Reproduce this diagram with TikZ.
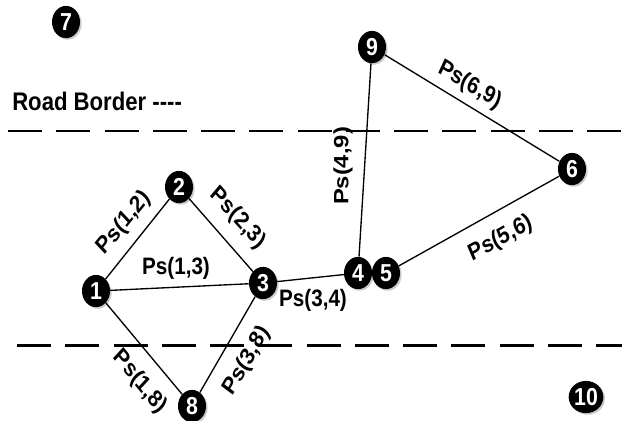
\documentclass[tikz,border=0pt]{standalone}
\usepackage{fontspec}
\setmainfont{Liberation Sans}
\usetikzlibrary{shadows,shapes.geometric}
\begin{document}
\begin{tikzpicture}[x=0.75pt, y=-0.6522pt, yscale=1.15,
  every node/.append style={transform shape},
  vert/.style={ellipse, fill=black, text=white,
    font=\bfseries\fontsize{16}{16}\selectfont,
    minimum width=21pt, minimum height=21pt, inner sep=0pt,
    drop shadow={shadow xshift=1.2pt, shadow yshift=-1.2pt, opacity=0.35, fill=black!60}},
  edge/.style={line width=1pt},
  lab/.style={font=\bfseries\fontsize{15.5}{15.5}\selectfont, inner sep=0pt},
  border/.style={line width=2.2pt, dash pattern=on 25.5pt off 10.7pt}]
\useasboundingbox (0,0) rectangle (622,420);

% road borders
\coordinate (b1s) at (8,131);  \coordinate (b1e) at (622,131);
\coordinate (b2s) at (17,345); \coordinate (b2e) at (622,345);
\draw[border] (b1s) -- (b1e);
\draw[border] (b2s) -- (b2e);
\node[font=\bfseries\fontsize{16.6}{16.6}\selectfont, anchor=base west, inner sep=0pt] (rb) at (12,110) {Road Border -{}-{}-{}-};

% vertices
\node[vert] (n1) at (96,291) {1};
\node[vert] (n2) at (179,187) {2};
\node[vert] (n3) at (263,283) {3};
\node[vert] (n4) at (358,273) {4};
\node[vert] (n5) at (386,273) {5};
\node[vert] (n6) at (572,169) {6};
\node[vert] (n7) at (66,22) {7};
\node[vert] (n8) at (192,406) {8};
\node[vert] (n9) at (372,47) {9};
\node[vert, minimum width=26pt] (n10) at (586,397) {10};

% edges
\draw[edge] (n1) -- (n2);
\draw[edge] (n2) -- (n3);
\draw[edge] (n1) -- (n3);
\draw[edge] (n3) -- (n4);
\draw[edge] (n4) -- (n9);
\draw[edge] (n9) -- (n6);
\draw[edge] (n5) -- (n6);
\draw[edge] (n1) -- (n8);
\draw[edge] (n8) -- (n3);

% labels
\node[lab, rotate=47.3] (l12) at (124,223) {Ps(1,2)};
\node[lab, rotate=-44.2] (l23) at (238,218) {Ps(2,3)};
\node[lab] (l13) at (176,268) {Ps(1,3)};
\node[lab] (l34) at (313,300) {Ps(3,4)};
\node[lab, rotate=90] (l49) at (343,166) {Ps(4,9)};
\node[lab, rotate=-28.1] (l69) at (470,85) {Ps(6,9)};
\node[lab, rotate=26.1] (l56) at (501,239) {Ps(5,6)};
\node[lab, rotate=-46.7] (l18) at (140,382) {Ps(1,8)};
\node[lab, rotate=56.6] (l38) at (247,361) {Ps(3,8)};
\end{tikzpicture}
\end{document}
